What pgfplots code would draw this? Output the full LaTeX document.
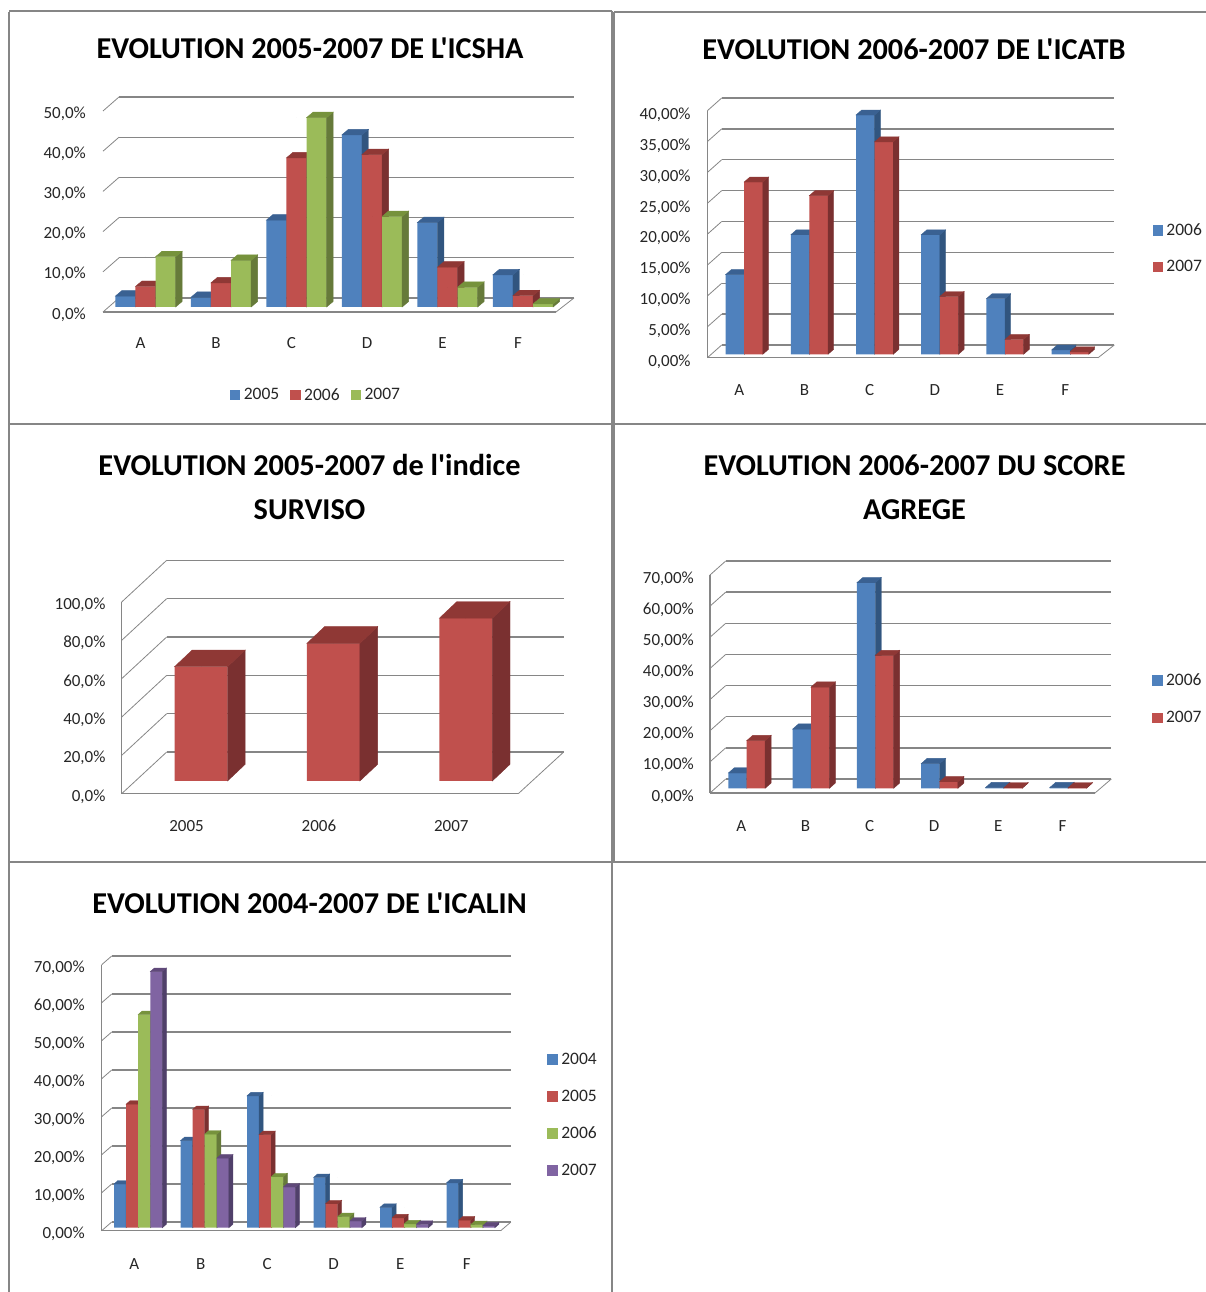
\documentclass[border=0pt]{standalone}
\usepackage{fontspec}
\setmainfont[Ligatures=TeXOff]{Carlito}
\usepackage{pgfplots}
\usepackage{pgfplotstable}
\pgfplotsset{compat=1.18}

\definecolor{blueF}{HTML}{4F81BD}\definecolor{blueT}{HTML}{3A6192}\definecolor{blueS}{HTML}{31557F}
\definecolor{redF}{HTML}{C0504D}\definecolor{redT}{HTML}{8F3835}\definecolor{redS}{HTML}{7A3030}
\definecolor{greenF}{HTML}{9BBB59}\definecolor{greenT}{HTML}{76923C}\definecolor{greenS}{HTML}{667A3A}
\definecolor{purpleF}{HTML}{8064A2}\definecolor{purpleT}{HTML}{60497A}\definecolor{purpleS}{HTML}{50406A}
\definecolor{wallc}{HTML}{868686}

\pgfplotstableread{
x a b c
0 2.7 5.1 12.5
1 2.4 6.0 11.6
2 21.6 37.1 47.1
3 42.8 37.9 22.5
4 21.0 9.9 4.9
5 8.0 2.8 0.75
}\icsha
\pgfplotstableread{
x a b
0 12.9 27.9
1 19.35 25.7
2 38.75 34.4
3 19.35 9.35
4 9.0 2.4
5 0.7 0.4
}\icatb
\pgfplotstableread{
x a
0 59.6
1 71.8
2 84.9
}\surviso
\pgfplotstableread{
x a b
0 4.9 15.3
1 19.0 32.5
2 66.0 42.6
3 7.9 2.1
4 0.2 0.15
5 0.2 0.15
}\score
\pgfplotstableread{
x a b c d
0 11.5 32.5 56.1 67.4
1 22.9 31.1 24.6 18.3
2 34.7 24.5 13.4 10.7
3 13.2 6.3 2.9 1.75
4 5.35 2.6 1.0 0.9
5 11.8 2.0 0.8 0.5
}\icalin

% front of a series as ybar, top and side faces as scatter marks
\newcommand{\barset}[4]{%
  \addplot[ybar,bar width=\bw pt,bar shift=#4pt,fill=#3F,draw=none,forget plot] table[x=x,y=#2]{#1};
  \addplot[scatter,only marks,mark=*,mark size=0pt,forget plot,clip marker paths=true,
    visualization depends on={rawy\as\rawv},
    scatter/@pre marker code/.code={%
      \pgfmathsetmacro\hh{\rawv*\ppu}%
      \pgfmathsetmacro\xl{#4-\bw/2}%
      \pgfmathsetmacro\xr{#4+\bw/2}%
      \fill[#3S] (\xr pt,0pt)--(\xr pt+\dx pt,\dy pt)--(\xr pt+\dx pt,\dy pt-\hh pt)--(\xr pt,-\hh pt)--cycle;
      \fill[#3T] (\xl pt,0pt)--(\xl pt+\dx pt,\dy pt)--(\xr pt+\dx pt,\dy pt)--(\xr pt,0pt)--cycle;
    },
    scatter/@post marker code/.code={}] table[x=x,y=#2]{#1};
}
% side wall, back wall and floor; offsets in pt from the left end of the axis
\newcommand{\walls}[7]{%
  \pgfplotsinvokeforeach{#1}{%
    \draw[wallc,line width=0.8pt] ([xshift=#2pt,yshift=#3pt]axis cs:-0.5,##1)--([xshift=#4pt,yshift=#5pt]axis cs:-0.5,##1);
    \draw[wallc,line width=1.3pt] ([xshift=#4pt,yshift=#5pt]axis cs:-0.5,##1)--([xshift=#6pt,yshift=#5pt]axis cs:-0.5,##1);
  }
  \draw[wallc,line width=1.3pt] ([xshift=#2pt,yshift=#3pt]axis cs:-0.5,0)--([xshift=#7pt,yshift=#3pt]axis cs:-0.5,0);
  \draw[wallc,line width=0.8pt] ([xshift=#7pt,yshift=#3pt]axis cs:-0.5,0)--([xshift=#6pt,yshift=#5pt]axis cs:-0.5,0);
}

\pgfplotsset{
  panel/.style={
    scale only axis,clip=false,xmin=-0.5,ymin=0,anchor=south west,
    axis line style={draw=none},major tick length=0pt,
    xtick=data,
    tick label style={font=\fontsize{17}{20}\selectfont,text=black!85},
    legend image code/.code={\fill[##1] (0pt,-4.75pt) rectangle (9.5pt,4.75pt);\path (11.5pt,0pt);},
    legend style={draw=none,fill=none,font=\fontsize{17.5}{20}\selectfont,text=black!85,inner sep=0pt,cells={anchor=west}},
    title style={at={(0,1)},anchor=center,align=center,font=\fontsize{30.3}{44}\selectfont\bfseries},
  },
}

\begin{document}
\begin{tikzpicture}
\path[use as bounding box] (0,0) rectangle (1206pt,1292pt);
\begin{scope}[color=wallc,line width=1.5pt]
\draw (9pt,1280pt)--(9pt,0pt);
\draw (9pt,1281pt)--(612pt,1281pt);
\draw (614pt,1280pt)--(1206pt,1280pt);
\draw (612pt,1281pt)--(612pt,0pt);
\draw (614pt,1280pt)--(614pt,430pt);
\draw (9pt,868pt)--(1206pt,868pt);
\draw (9pt,430pt)--(1206pt,430pt);
\end{scope}

% ICSHA
\def\bw{20.1}\def\dx{6.5}\def\dy{5.5}\def\ppu{4.02}
\begin{axis}[panel,at={(107.75pt,985pt)},width=453pt,height=201pt,xmax=5.5,ymax=50,
  title={EVOLUTION 2005-2007 DE L'ICSHA},
  title style={xshift=202.25pt,yshift=52pt},
  ytick={0,10,20,30,40,50},
  yticklabels={{0,0\%},{10,0\%},{20,0\%},{30,0\%},{40,0\%},{50,0\%}},
  xticklabels={A,B,C,D,E,F},
  y tick label style={anchor=east,inner sep=0pt,xshift=-21.75pt,yshift=-7.5pt},
  x tick label style={anchor=center,inner sep=0pt,xshift=-5pt,yshift=-36.5pt},
  legend columns=3,
  legend style={at={(0,1)},anchor=north west,xshift=122pt,yshift=-280pt,
    /tikz/every even column/.append style={column sep=9pt}},
]
\walls{0,10,20,30,40,50}{-4.75}{-5}{11.25}{9}{466.25}{448.25}
\barset{\icsha}{a}{blue}{-20.1}
\barset{\icsha}{b}{red}{0}
\barset{\icsha}{c}{green}{20.1}
\addlegendimage{blueF}\addlegendentry{2005}
\addlegendimage{redF}\addlegendentry{2006}
\addlegendimage{greenF}\addlegendentry{2007}
\end{axis}

% ICATB
\def\bw{18.6}\def\dx{5.7}\def\dy{5}\def\ppu{6.175}
\begin{axis}[panel,at={(711.6pt,937.7pt)},width=391.2pt,height=247pt,xmax=5.5,ymax=40,
  title={EVOLUTION 2006-2007 DE L'ICATB},
  title style={xshift=202.4pt,yshift=52.3pt},
  ytick={0,5,10,15,20,25,30,35,40},
  yticklabels={{0,00\%},{5,00\%},{10,00\%},{15,00\%},{20,00\%},{25,00\%},{30,00\%},{35,00\%},{40,00\%}},
  xticklabels={A,B,C,D,E,F},
  y tick label style={anchor=east,inner sep=0pt,xshift=-20.9pt,yshift=-7.5pt},
  x tick label style={anchor=center,inner sep=0pt,xshift=-5pt,yshift=-35.7pt},
  legend style={at={(0,1)},anchor=north west,xshift=440.7pt,yshift=-114pt,row sep=19.5pt},
]
\walls{0,5,10,15,20,25,30,35,40}{-4.3}{-3.5}{10.1}{9.3}{402.7}{386.4}
\draw[wallc,line width=1.3pt] ([xshift=-4.3pt,yshift=-3.5pt]axis cs:-0.5,0)--([xshift=-4.3pt,yshift=-3.5pt]axis cs:-0.5,40);
\barset{\icatb}{a}{blue}{-9.3}
\barset{\icatb}{b}{red}{9.3}
\addlegendimage{blueF}\addlegendentry{2006}
\addlegendimage{redF}\addlegendentry{2007}
\end{axis}

% SURVISO
\def\bw{53}\def\dx{17.7}\def\dy{16.7}\def\ppu{1.917}
\begin{axis}[panel,at={(134.8pt,511pt)},width=397.2pt,height=191.7pt,xmax=2.5,ymax=100,
  title={EVOLUTION 2005-2007 de l'indice\\SURVISO},
  title style={xshift=174.7pt,yshift=96.3pt},
  ytick={0,20,40,60,80,100},
  yticklabels={{0,0\%},{20,0\%},{40,0\%},{60,0\%},{80,0\%},{100,0\%}},
  xticklabels={2005,2006,2007},
  y tick label style={anchor=east,inner sep=0pt,xshift=-29.1pt,yshift=-15.5pt},
  x tick label style={anchor=center,inner sep=0pt,xshift=-14.5pt,yshift=-45pt},
]
\walls{0,20,40,60,80,100}{-13.1}{-12.7}{31.9}{29}{428.9}{383.5}
\draw[wallc,line width=1.3pt] ([xshift=-13.1pt,yshift=-12.7pt]axis cs:-0.5,0)--([xshift=-13.1pt,yshift=-12.7pt]axis cs:-0.5,100);
\barset{\surviso}{a}{red}{0}
\end{axis}

% SCORE AGREGE
\def\bw{18.4}\def\dx{6}\def\dy{5.3}\def\ppu{3.114}
\begin{axis}[panel,at={(714.6pt,503.7pt)},width=385.6pt,height=218pt,xmax=5.5,ymax=70,
  title={EVOLUTION 2006-2007 DU SCORE\\AGREGE},
  title style={xshift=199.9pt,yshift=77.3pt},
  ytick={0,10,20,30,40,50,60,70},
  yticklabels={{0,00\%},{10,00\%},{20,00\%},{30,00\%},{40,00\%},{50,00\%},{60,00\%},{70,00\%}},
  xticklabels={A,B,C,D,E,F},
  y tick label style={anchor=east,inner sep=0pt,xshift=-20.6pt,yshift=-8pt},
  x tick label style={anchor=center,inner sep=0pt,xshift=-5.5pt,yshift=-37.4pt},
  legend style={at={(0,1)},anchor=north west,xshift=437.4pt,yshift=-101pt,row sep=20.5pt},
]
\walls{0,10,20,30,40,50,60,70}{-4.6}{-4.7}{11.1}{9.3}{396.7}{380.4}
\draw[wallc,line width=1.3pt] ([xshift=-4.6pt,yshift=-4.7pt]axis cs:-0.5,0)--([xshift=-4.6pt,yshift=-4.7pt]axis cs:-0.5,70);
\barset{\score}{a}{blue}{-9.2}
\barset{\score}{b}{red}{9.2}
\addlegendimage{blueF}\addlegendentry{2006}
\addlegendimage{redF}\addlegendentry{2007}
\end{axis}

% ICALIN
\def\bw{12.1}\def\dx{4}\def\dy{3.5}\def\ppu{3.8}
\begin{axis}[panel,at={(104.95pt,64.3pt)},width=399pt,height=266pt,xmax=5.5,ymax=70,
  title={EVOLUTION 2004-2007 DE L'ICALIN},
  title style={xshift=204.55pt,yshift=52.7pt},
  ytick={0,10,20,30,40,50,60,70},
  yticklabels={{0,00\%},{10,00\%},{20,00\%},{30,00\%},{40,00\%},{50,00\%},{60,00\%},{70,00\%}},
  xticklabels={A,B,C,D,E,F},
  y tick label style={anchor=east,inner sep=0pt,xshift=-20pt,yshift=-6.1pt},
  x tick label style={anchor=center,inner sep=0pt,xshift=-4pt,yshift=-36.3pt},
  legend style={at={(0,1)},anchor=north west,xshift=442.3pt,yshift=-89pt,row sep=20pt},
]
\walls{0,10,20,30,40,50,60,70}{-3.25}{-3}{6.75}{5.7}{406}{395.75}
\draw[wallc,line width=1.3pt] ([xshift=-3.25pt,yshift=-3pt]axis cs:-0.5,0)--([xshift=-3.25pt,yshift=-3pt]axis cs:-0.5,70);
\barset{\icalin}{a}{blue}{-18.15}
\barset{\icalin}{b}{red}{-6.05}
\barset{\icalin}{c}{green}{6.05}
\barset{\icalin}{d}{purple}{18.15}
\addlegendimage{blueF}\addlegendentry{2004}
\addlegendimage{redF}\addlegendentry{2005}
\addlegendimage{greenF}\addlegendentry{2006}
\addlegendimage{purpleF}\addlegendentry{2007}
\end{axis}
\end{tikzpicture}
\end{document}
